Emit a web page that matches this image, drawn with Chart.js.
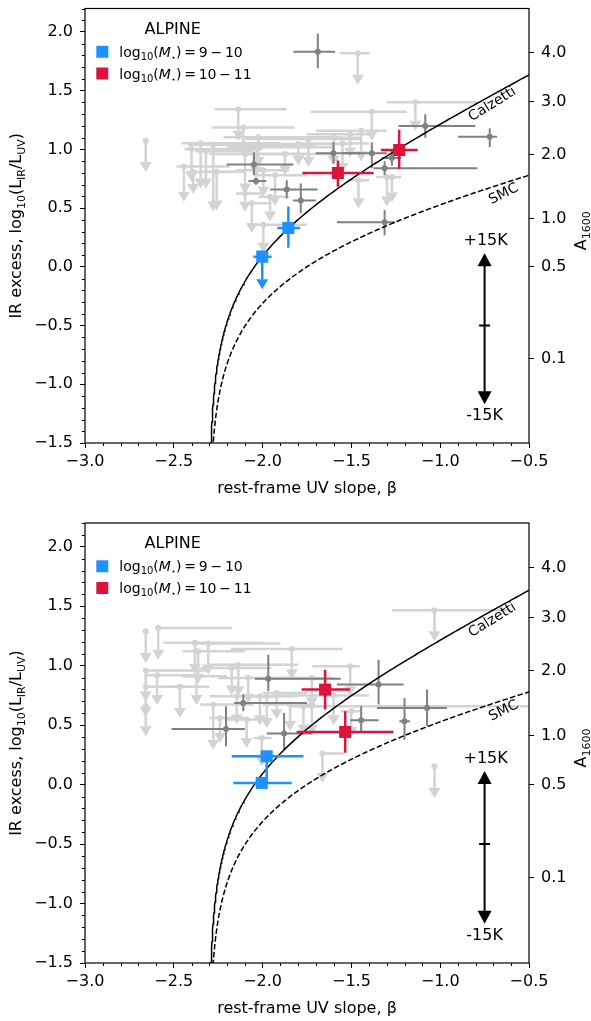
<!DOCTYPE html>
<html>
<head>
<meta charset="utf-8">
<script src="https://cdn.jsdelivr.net/npm/chart.js@4.4.0/dist/chart.umd.min.js"></script>
<style>
  body { margin: 0; background: #fff; }
  canvas { display: block; }
</style>
</head>
<body>
<canvas id="irxTop" width="591" height="510"></canvas>
<canvas id="irxBottom" width="591" height="511"></canvas>
<script>
const FONT = '"DejaVu Sans", sans-serif';

// axis ticks
const betaTicks = [-3.0, -2.5, -2.0, -1.5, -1.0, -0.5];
const irxTicks = [-1.5, -1.0, -0.5, 0.0, 0.5, 1.0, 1.5, 2.0];
const a1600Ticks = [4.0, 3.0, 2.0, 1.0, 0.5, 0.1];
const betaRange = [-3.0, -0.5];
const irxRange = [-1.5, 2.2];

// IRX-beta relation: IRX = log10(B * (10^(0.4 * k * (beta - beta0)) - 1))
const BETA0 = -2.3;
const IRX_B = 1.71;
const calzettiSlope = 1.97;
const smcSlope = 0.91;

// dust temperature shift marker: [beta, irx at centre, irx at +15K, irx at -15K]
const tempShift = [-0.75, -0.5, 0.115, -1.17];

// ---- upper panel ----
// individual detections: [beta, irx, betaLo, betaHi, irxLo, irxHi]
const topDetections = [
  [-1.689, 1.832, -1.827, -1.592, 1.692, 1.987],
  [-1.084, 1.200, -1.235, -0.802, 1.100, 1.300],
  [-0.721, 1.108, -0.900, -0.680, 1.020, 1.180],
  [-1.601, 0.968, -1.700, -1.450, 0.880, 1.060],
  [-1.385, 0.968, -1.550, -1.300, 0.840, 1.060],
  [-1.313, 0.840, -1.375, -0.790, 0.780, 0.900],
  [-1.272, 0.926, -1.330, -1.220, 0.860, 1.000],
  [-1.313, 0.379, -1.582, -1.253, 0.270, 0.485],
  [-2.049, 0.872, -2.203, -1.827, 0.780, 0.976],
  [-2.037, 0.732, -2.080, -1.980, 0.700, 0.760],
  [-1.864, 0.659, -1.958, -1.690, 0.583, 0.737],
  [-1.785, 0.564, -1.830, -1.700, 0.457, 0.710]
];
// individual upper limits: [beta, irx, betaLo, betaHi, arrow tip]
const topLimits = [
  [-2.658, 1.074, -2.658, -2.658, 0.808],
  [-2.137, 1.341, -2.268, -1.864, 1.074],
  [-2.109, 1.187, -2.287, -1.820, 0.950],
  [-2.024, 1.103, -2.220, -1.550, 0.850],
  [-2.349, 1.052, -2.456, -1.900, 0.667],
  [-2.278, 1.040, -2.420, -1.700, 0.471],
  [-2.400, 1.004, -2.440, -2.000, 0.724],
  [-2.319, 0.985, -2.380, -2.050, 0.667],
  [-2.443, 0.855, -2.484, -2.184, 0.555],
  [-2.391, 0.808, -2.430, -2.150, 0.620],
  [-2.037, 1.018, -2.200, -1.600, 0.766],
  [-2.099, 0.962, -2.300, -1.750, 0.625],
  [-1.996, 0.822, -2.150, -1.850, 0.600],
  [-2.061, 0.541, -2.100, -1.950, 0.289],
  [-1.996, 0.359, -2.071, -1.751, 0.120],
  [-1.958, 0.598, -2.020, -1.850, 0.387],
  [-1.874, 0.962, -2.100, -1.600, 0.780],
  [-1.799, 1.046, -2.300, -1.500, 0.864],
  [-1.742, 1.088, -2.100, -1.450, 0.850],
  [-2.099, 0.625, -2.150, -2.000, 0.470],
  [-1.464, 1.818, -1.564, -1.397, 1.551],
  [-1.140, 1.402, -1.300, -0.790, 1.158],
  [-1.385, 1.321, -1.730, -1.187, 1.074],
  [-1.445, 1.158, -1.700, -1.300, 0.900],
  [-1.507, 1.130, -1.750, -1.400, 0.930],
  [-1.460, 0.737, -1.520, -1.400, 0.500],
  [-1.300, 0.766, -1.360, -1.250, 0.513],
  [-1.272, 0.766, -1.300, -1.220, 0.550],
  [-2.259, 0.810, -2.350, -2.100, 0.480],
  [-1.930, 0.780, -2.050, -1.750, 0.520],
  [-1.600, 1.100, -1.850, -1.450, 0.860],
  [-1.550, 1.050, -1.800, -1.400, 0.800]
];
// stacks: [beta, irx, betaLo, betaHi, irxLo, irxHi]; irxHi null marks an upper limit
const topLowMass = [
  [-1.855, 0.331, -1.917, -1.789, 0.162, 0.513],
  [-2.002, 0.087, -2.052, -1.949, -0.19, null]
];
const topHighMass = [
  [-1.576, 0.800, -1.776, -1.375, 0.682, 0.906],
  [-1.231, 0.996, -1.334, -1.127, 0.836, 1.167]
];

// ---- lower panel ----
const bottomDetections = [
  [-1.968, 0.891, -2.043, -1.560, 0.785, 1.093],
  [-2.109, 0.687, -2.160, -1.750, 0.617, 0.757],
  [-2.206, 0.468, -2.513, -2.100, 0.322, 0.659],
  [-1.879, 0.429, -1.977, -1.720, 0.294, 0.603],
  [-1.347, 0.841, -1.582, -1.206, 0.673, 1.051],
  [-1.074, 0.645, -1.356, -0.962, 0.490, 0.799],
  [-1.201, 0.532, -1.230, -1.170, 0.378, 0.729],
  [-1.445, 0.541, -1.507, -1.347, 0.435, 0.659]
];
const bottomLimits = [
  [-2.658, 1.290, -2.658, -2.658, 1.023],
  [-2.588, 1.318, -2.588, -2.174, 1.051],
  [-2.381, 1.192, -2.560, -1.996, 0.930],
  [-2.306, 1.186, -2.400, -1.900, 0.925],
  [-2.363, 1.121, -2.450, -2.100, 0.850],
  [-2.658, 0.959, -2.658, -2.300, 0.700],
  [-2.594, 0.919, -2.650, -2.400, 0.670],
  [-2.658, 0.822, -2.658, -2.400, 0.570],
  [-2.658, 0.659, -2.658, -2.658, 0.406],
  [-2.466, 0.822, -2.550, -2.300, 0.561],
  [-2.137, 1.009, -2.300, -1.800, 0.743],
  [-2.174, 0.981, -2.350, -1.950, 0.750],
  [-2.081, 0.897, -2.250, -1.850, 0.680],
  [-1.836, 1.141, -2.180, -1.550, 0.883],
  [-1.723, 0.897, -1.900, -1.600, 0.650],
  [-2.278, 0.673, -2.350, -2.050, 0.294],
  [-2.240, 0.561, -2.300, -2.100, 0.350],
  [-2.146, 0.743, -2.300, -1.950, 0.505],
  [-2.015, 0.743, -2.100, -1.900, 0.500],
  [-1.977, 0.743, -2.050, -1.800, 0.477],
  [-1.921, 0.771, -2.000, -1.750, 0.550],
  [-2.090, 0.547, -2.200, -1.950, 0.309],
  [-2.005, 0.393, -2.050, -1.950, 0.154],
  [-1.770, 0.659, -1.850, -1.650, 0.420],
  [-1.723, 0.659, -1.800, -0.500, 0.420],
  [-2.372, 0.911, -2.450, -2.200, 0.670],
  [-1.032, 1.466, -1.272, -0.605, 1.205],
  [-1.507, 0.995, -1.720, -1.450, 0.743],
  [-1.501, 0.617, -1.560, -1.450, 0.400],
  [-1.663, 0.261, -1.663, -1.540, 0.014],
  [-1.032, 0.154, -1.032, -1.032, -0.112],
  [-1.845, 0.673, -2.000, -1.700, 0.450],
  [-1.600, 0.750, -1.950, -1.400, 0.500]
];
const bottomLowMass = [
  [-1.977, 0.238, -2.174, -1.770, 0.040, 0.260],
  [-2.005, 0.014, -2.165, -1.836, -0.010, 0.040]
];
const bottomHighMass = [
  [-1.648, 0.799, -1.780, -1.507, 0.631, 0.967],
  [-1.535, 0.443, -1.808, -1.263, 0.267, 0.617]
];

const LIGHT = '#d3d3d3';
const DARK = '#808080';
const BLUE = '#1e90ff';
const RED = '#dc143c';

function irxFromA(a) {
  return Math.log10(IRX_B * (Math.pow(10, 0.4 * a) - 1));
}

// relation curve, sampled densely near beta0 where it turns vertical
function relationCurve(slope) {
  const pts = [];
  for (let i = 0; i <= 240; i++) {
    const t = i / 240;
    const b = BETA0 + 1e-4 + (betaRange[1] - BETA0) * t * t;
    pts.push({ x: b, y: irxFromA(slope * (b - BETA0)) });
  }
  return pts;
}

function toPoints(rows) {
  return rows.map(r => ({ x: r[0], y: r[1], xLo: r[2], xHi: r[3], yLo: r[4], yHi: r[5] }));
}
function toLimits(rows) {
  return rows.map(r => ({ x: r[0], y: r[1], xLo: r[2], xHi: r[3], yLo: r[4], yHi: null }));
}

function drawRich(ctx, parts, x, y, angle, align) {
  ctx.save();
  ctx.translate(x, y);
  ctx.rotate(angle);
  ctx.textBaseline = 'alphabetic';
  ctx.textAlign = 'left';
  let w = 0;
  parts.forEach(p => { ctx.font = p.font; w += ctx.measureText(p.text).width; });
  let cx = align === 'center' ? -w / 2 : 0;
  parts.forEach(p => {
    ctx.font = p.font;
    ctx.fillText(p.text, cx, p.dy || 0);
    cx += ctx.measureText(p.text).width;
  });
  ctx.restore();
}

// error bars and upper-limit arrows, drawn under each dataset's markers
const errorBars = {
  id: 'errorBars',
  beforeDatasetDraw(chart, args) {
    const ds = chart.data.datasets[args.index];
    if (!ds.errorColor) return;
    const { ctx, chartArea } = chart;
    const xs = chart.scales.x, ys = chart.scales.y;
    ctx.save();
    ctx.beginPath();
    ctx.rect(chartArea.left, chartArea.top, chartArea.width, chartArea.height);
    ctx.clip();
    ctx.strokeStyle = ds.errorColor;
    ctx.fillStyle = ds.errorColor;
    ctx.lineWidth = ds.errorWidth;
    ds.data.forEach(p => {
      const px = xs.getPixelForValue(p.x);
      const py = ys.getPixelForValue(p.y);
      ctx.beginPath();
      ctx.moveTo(xs.getPixelForValue(p.xLo), py);
      ctx.lineTo(xs.getPixelForValue(p.xHi), py);
      if (p.yHi === null) {
        const tip = ys.getPixelForValue(p.yLo);
        const base = tip - 10;
        ctx.moveTo(px, py);
        ctx.lineTo(px, base);
        ctx.stroke();
        ctx.beginPath();
        ctx.moveTo(px - 6, base);
        ctx.lineTo(px + 6, base);
        ctx.lineTo(px, tip);
        ctx.closePath();
        ctx.fill();
      } else {
        ctx.moveTo(px, ys.getPixelForValue(p.yHi));
        ctx.lineTo(px, ys.getPixelForValue(p.yLo));
        ctx.stroke();
      }
    });
    ctx.restore();
  }
};

// frame, minor ticks, titles, legend and annotations
const decorations = {
  id: 'decorations',
  afterDraw(chart) {
    const { ctx, chartArea: a } = chart;
    const xs = chart.scales.x, ys = chart.scales.y;
    ctx.save();
    ctx.strokeStyle = '#000';
    ctx.lineWidth = 1.2;
    ctx.strokeRect(a.left, a.top, a.width, a.height);

    ctx.lineWidth = 1;
    ctx.beginPath();
    for (let i = -30; i <= -5; i++) {
      if (i % 5 === 0) continue;
      const px = Math.round(xs.getPixelForValue(i / 10)) + 0.5;
      ctx.moveTo(px, a.bottom);
      ctx.lineTo(px, a.bottom + 3);
    }
    for (let i = -15; i <= 22; i++) {
      if (i % 5 === 0) continue;
      const py = Math.round(ys.getPixelForValue(i / 10)) + 0.5;
      ctx.moveTo(a.left, py);
      ctx.lineTo(a.left - 3, py);
    }
    ctx.stroke();

    ctx.fillStyle = '#000';
    const big = '16px ' + FONT, sub = '11px ' + FONT;
    const midY = (a.top + a.bottom) / 2;
    drawRich(ctx, [
      { text: 'IR excess, log', font: big },
      { text: '10', font: sub, dy: 4 },
      { text: '(L', font: big },
      { text: 'IR', font: sub, dy: 4 },
      { text: '/L', font: big },
      { text: 'UV', font: sub, dy: 4 },
      { text: ')', font: big }
    ], 20.5, midY, -Math.PI / 2, 'center');
    drawRich(ctx, [
      { text: 'A', font: big },
      { text: '1600', font: sub, dy: 4 }
    ], 586, midY + 5, -Math.PI / 2, 'center');
    drawRich(ctx, [{ text: 'rest-frame UV slope, \u03b2', font: big }],
      (a.left + a.right) / 2, a.bottom + 50, 0, 'center');

    // legend
    ctx.font = big;
    ctx.textAlign = 'center';
    ctx.fillText('ALPINE', 172.7, a.top + 25);
    const legendRows = [[BLUE, '9\u2009\u2212\u200910'], [RED, '10\u2009\u2212\u200911']];
    legendRows.forEach((row, i) => {
      const cy = a.top + 43.3 + i * 21.7;
      ctx.fillStyle = row[0];
      ctx.fillRect(96.3, cy - 6, 12, 12);
      ctx.fillStyle = '#000';
      const f = '14px ' + FONT;
      drawRich(ctx, [
        { text: 'log', font: f },
        { text: '10', font: '10px ' + FONT, dy: 3 },
        { text: '(', font: f },
        { text: 'M', font: 'italic 14px ' + FONT },
        { text: '\u22c6', font: '8px ' + FONT, dy: 3 },
        { text: ')\u2009=\u2009' + row[1], font: f }
      ], 119.3, cy + 5, 0, 'left');
    });

    // curve labels
    drawRich(ctx, [{ text: 'Calzetti', font: '14px ' + FONT }],
      xs.getPixelForValue(-0.695), ys.getPixelForValue(1.358), -32 * Math.PI / 180, 'center');
    drawRich(ctx, [{ text: 'SMC', font: '14px ' + FONT }],
      xs.getPixelForValue(-0.633), ys.getPixelForValue(0.592), -26.5 * Math.PI / 180, 'center');

    // +/-15K dust temperature arrow
    const ax = xs.getPixelForValue(tempShift[0]);
    const mid = ys.getPixelForValue(tempShift[1]);
    const up = ys.getPixelForValue(tempShift[2]);
    const down = ys.getPixelForValue(tempShift[3]);
    ctx.lineWidth = 2;
    ctx.beginPath();
    ctx.moveTo(ax, up + 12);
    ctx.lineTo(ax, down - 12);
    ctx.moveTo(ax - 5.5, mid);
    ctx.lineTo(ax + 5.5, mid);
    ctx.stroke();
    ctx.beginPath();
    ctx.moveTo(ax, up); ctx.lineTo(ax - 7, up + 13); ctx.lineTo(ax + 7, up + 13); ctx.closePath();
    ctx.moveTo(ax, down); ctx.lineTo(ax - 7, down - 13); ctx.lineTo(ax + 7, down - 13); ctx.closePath();
    ctx.fill();
    ctx.font = big;
    ctx.textAlign = 'center';
    ctx.fillText('+15K', ax + 1, up - 8);
    ctx.fillText('-15K', ax, down + 16);
    ctx.restore();
  }
};

// pin the axis boxes so the plot area lands at fixed pixels
function pinAxis(size) {
  return s => {
    if (s.isHorizontal()) s.height = size; else s.width = size;
    s.paddingTop = 0; s.paddingBottom = 0; s.paddingLeft = 0; s.paddingRight = 0;
  };
}

function buildPanel(canvasId, padTop, xAxisHeight, limits, detections, lowMass, highMass) {
  const tickFont = { family: FONT, size: 16 };
  const tickGrid = { drawOnChartArea: false, drawTicks: true, tickLength: 5, tickColor: '#000', tickWidth: 1 };
  const signed = v => (v < 0 ? '\u2212' : '') + Math.abs(v).toFixed(1);
  new Chart(document.getElementById(canvasId), {
    type: 'scatter',
    data: {
      datasets: [
        {
          data: toPoints(highMass), order: 0,
          pointStyle: 'rect', pointRadius: 8.5, backgroundColor: RED, borderWidth: 0,
          errorColor: RED, errorWidth: 2.5
        },
        {
          data: toPoints(lowMass), order: 1,
          pointStyle: 'rect', pointRadius: 8.5, backgroundColor: BLUE, borderWidth: 0,
          errorColor: BLUE, errorWidth: 2.5
        },
        {
          data: relationCurve(calzettiSlope), order: 2, showLine: true,
          borderColor: '#000', borderWidth: 1.5, pointRadius: 0, tension: 0
        },
        {
          data: relationCurve(smcSlope), order: 2, showLine: true,
          borderColor: '#000', borderWidth: 1.5, borderDash: [5.5, 2.4], pointRadius: 0, tension: 0
        },
        {
          data: toPoints(detections), order: 3,
          pointRadius: 3, backgroundColor: DARK, borderWidth: 0,
          errorColor: DARK, errorWidth: 2
        },
        {
          data: toLimits(limits), order: 4,
          pointRadius: 3, backgroundColor: LIGHT, borderWidth: 0,
          errorColor: LIGHT, errorWidth: 2.5
        }
      ]
    },
    options: {
      responsive: false,
      animation: false,
      events: [],
      layout: { padding: { top: padTop, left: 0, right: 0, bottom: 0 } },
      plugins: { legend: { display: false }, tooltip: { enabled: false } },
      scales: {
        x: {
          type: 'linear', min: betaRange[0], max: betaRange[1],
          afterBuildTicks: s => { s.ticks = betaTicks.map(v => ({ value: v })); },
          afterFit: pinAxis(xAxisHeight),
          ticks: { font: tickFont, color: '#000', padding: 4, maxRotation: 0, callback: signed },
          grid: tickGrid, border: { display: false }
        },
        y: {
          type: 'linear', min: irxRange[0], max: irxRange[1],
          afterBuildTicks: s => { s.ticks = irxTicks.map(v => ({ value: v })); },
          afterFit: pinAxis(85),
          ticks: { font: tickFont, color: '#000', padding: 7, callback: signed },
          grid: tickGrid, border: { display: false }
        },
        y2: {
          type: 'linear', position: 'right', min: irxRange[0], max: irxRange[1],
          afterBuildTicks: s => { s.ticks = a1600Ticks.map(v => ({ value: irxFromA(v) })); },
          afterFit: pinAxis(62),
          ticks: { font: tickFont, color: '#000', padding: 7,
                   callback: (v, i) => a1600Ticks[i].toFixed(1) },
          grid: tickGrid, border: { display: false }
        }
      }
    },
    plugins: [errorBars, decorations]
  });
}

buildPanel('irxTop', 3, 67, topLimits, topDetections, topLowMass, topHighMass);
buildPanel('irxBottom', 13, 58, bottomLimits, bottomDetections, bottomLowMass, bottomHighMass);
</script>
</body>
</html>
